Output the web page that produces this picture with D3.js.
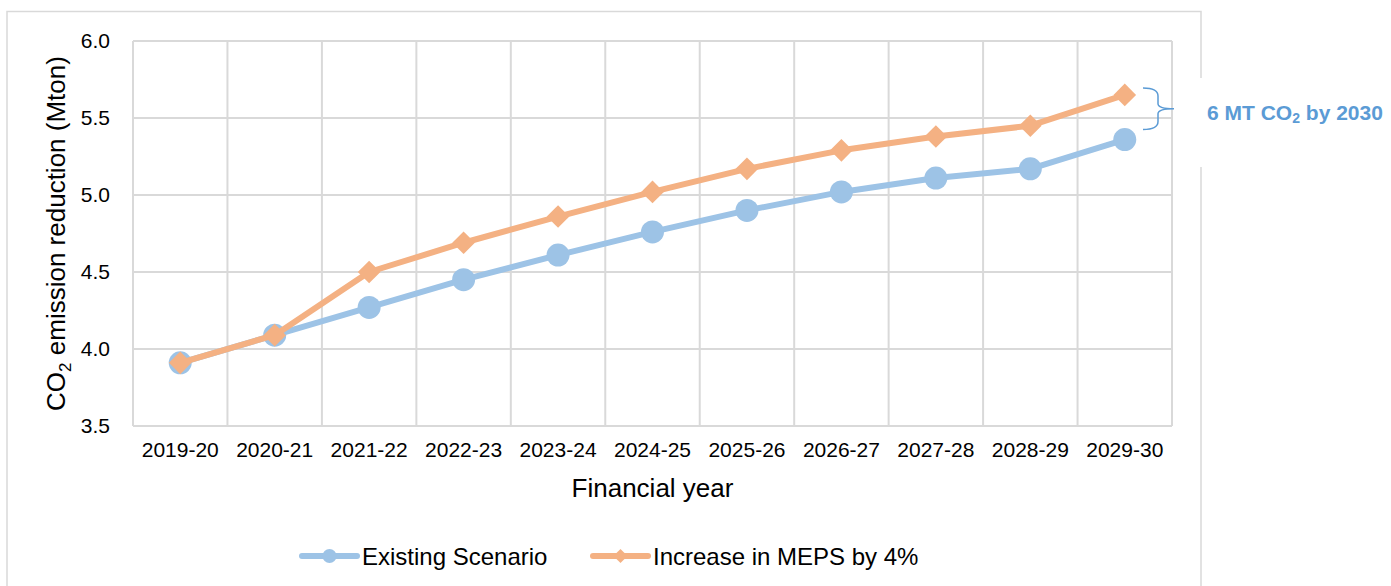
<!DOCTYPE html>
<html>
<head>
<meta charset="utf-8">
<script src="https://cdn.jsdelivr.net/npm/d3@7"></script>
<style>
  html, body { margin: 0; padding: 0; background: #ffffff; }
  svg { display: block; font-family: "Liberation Sans", Arial, sans-serif; }
</style>
</head>
<body>
<svg id="chart" width="1391" height="586"></svg>
<script>
// Financial years on the category axis
const years = ["2019-20", "2020-21", "2021-22", "2022-23", "2023-24", "2024-25",
               "2025-26", "2026-27", "2027-28", "2028-29", "2029-30"];
// CO2 emission reduction (Mton) per scenario
const existingScenario = [3.91, 4.09, 4.27, 4.45, 4.61, 4.76, 4.90, 5.02, 5.11, 5.17, 5.36];
const mepsIncrease4 = [3.91, 4.09, 4.50, 4.69, 4.86, 5.02, 5.17, 5.29, 5.38, 5.45, 5.65];
// Value-axis ticks
const yTicks = [3.5, 4.0, 4.5, 5.0, 5.5, 6.0];

const seriesNames = ["Existing Scenario", "Increase in MEPS by 4%"];
const blue = "#9DC3E6", orange = "#F4B183", grid = "#D9D9D9", accent = "#5B9BD5";
const font = "Liberation Sans, Arial, sans-serif";

const svg = d3.select("#chart");

// Chart frame
svg.append("rect")
  .attr("x", 7).attr("y", 11.5).attr("width", 1194).attr("height", 600)
  .attr("fill", "#fff").attr("stroke", grid).attr("stroke-width", 1.5);

const plot = { left: 133, right: 1172, top: 41, bottom: 426 };

const x = d3.scaleBand().domain(years).range([plot.left, plot.right]).padding(0);
const y = d3.scaleLinear().domain([3.5, 6.0]).range([plot.bottom, plot.top]);
const cx = d => x(d) + x.bandwidth() / 2;

// Horizontal gridlines
svg.append("g").selectAll("line").data(yTicks).join("line")
  .attr("x1", plot.left).attr("x2", plot.right)
  .attr("y1", d => y(d)).attr("y2", d => y(d))
  .attr("stroke", grid).attr("stroke-width", 2);

// Vertical gridlines at category boundaries
const bounds = years.map(d => x(d)).concat([plot.right]);
svg.append("g").selectAll("line").data(bounds).join("line")
  .attr("x1", d => d).attr("x2", d => d)
  .attr("y1", plot.top).attr("y2", plot.bottom)
  .attr("stroke", grid).attr("stroke-width", 2);

// Y axis tick labels
const yAxis = d3.axisLeft(y).tickValues(yTicks).tickFormat(d3.format(".1f")).tickSize(0).tickPadding(23);
svg.append("g").attr("transform", `translate(${plot.left},0)`).call(yAxis)
  .call(g => g.select(".domain").remove())
  .call(g => g.selectAll("text").attr("font-size", 21).attr("fill", "#000").attr("font-family", font));

// X axis tick labels
const xAxis = d3.axisBottom(x).tickSize(0).tickPadding(16);
svg.append("g").attr("transform", `translate(0,${plot.bottom})`).call(xAxis)
  .call(g => g.select(".domain").remove())
  .call(g => g.selectAll("text").attr("font-size", 21).attr("fill", "#000").attr("font-family", font));

// Axis titles
svg.append("text")
  .attr("x", (plot.left + plot.right) / 2).attr("y", 497)
  .attr("text-anchor", "middle").attr("font-size", 26).attr("fill", "#000")
  .text("Financial year");

const yTitle = svg.append("text")
  .attr("transform", `translate(65,${(plot.top + plot.bottom) / 2}) rotate(-90)`)
  .attr("text-anchor", "middle").attr("font-size", 26).attr("fill", "#000");
yTitle.append("tspan").text("CO");
yTitle.append("tspan").attr("font-size", 17).attr("dy", 6).text("2");
yTitle.append("tspan").attr("dy", -6).text(" emission reduction (Mton)");

// Series lines and markers
const line = d3.line().x((d, i) => cx(years[i])).y(d => y(d));

svg.append("path").datum(existingScenario)
  .attr("d", line).attr("fill", "none").attr("stroke", blue)
  .attr("stroke-width", 6).attr("stroke-linejoin", "round").attr("stroke-linecap", "round");
svg.append("g").selectAll("circle").data(existingScenario).join("circle")
  .attr("cx", (d, i) => cx(years[i])).attr("cy", d => y(d)).attr("r", 11.5)
  .attr("fill", blue);

const diamond = d3.symbol().type(d3.symbolSquare).size(256);
svg.append("path").datum(mepsIncrease4)
  .attr("d", line).attr("fill", "none").attr("stroke", orange)
  .attr("stroke-width", 6).attr("stroke-linejoin", "round").attr("stroke-linecap", "round");
svg.append("g").selectAll("path").data(mepsIncrease4).join("path")
  .attr("d", diamond)
  .attr("transform", (d, i) => `translate(${cx(years[i])},${y(d)}) rotate(45)`)
  .attr("fill", orange);

// Annotation: text box covering the frame edge, brace and label
svg.append("rect").attr("x", 1185).attr("y", 78).attr("width", 206).attr("height", 89).attr("fill", "#fff");

const last = years.length - 1;
const bTop = y(mepsIncrease4[last]) - 7, bBot = y(existingScenario[last]) - 10;
const bMid = (bTop + bBot) / 2, bx0 = 1143, bx1 = 1158, bTip = 1174;
const brace = d3.path();
brace.moveTo(bx0, bTop);
brace.quadraticCurveTo(bx1, bTop, bx1, bTop + 8);
brace.lineTo(bx1, bMid - 5);
brace.quadraticCurveTo(bx1, bMid, bTip, bMid);
brace.quadraticCurveTo(bx1, bMid, bx1, bMid + 5);
brace.lineTo(bx1, bBot - 8);
brace.quadraticCurveTo(bx1, bBot, bx0, bBot);
svg.append("path").attr("d", brace.toString())
  .attr("fill", "none").attr("stroke", accent).attr("stroke-width", 1.5);

const note = svg.append("text")
  .attr("x", 1207).attr("y", 120)
  .attr("font-size", 21).attr("font-weight", "bold").attr("fill", accent);
note.append("tspan").text("6 MT CO");
note.append("tspan").attr("font-size", 14).attr("dy", 3).text("2");
note.append("tspan").attr("dy", -3).text(" by 2030");

// Legend
const legend = svg.append("g");
const legendItems = [
  { name: seriesNames[0], color: blue, x0: 302, shape: "circle" },
  { name: seriesNames[1], color: orange, x0: 593, shape: "diamond" }
];
const ly = 556;
legendItems.forEach(it => {
  legend.append("line")
    .attr("x1", it.x0).attr("x2", it.x0 + 55).attr("y1", ly).attr("y2", ly)
    .attr("stroke", it.color).attr("stroke-width", 6).attr("stroke-linecap", "round");
  if (it.shape === "circle") {
    legend.append("circle").attr("cx", it.x0 + 27.5).attr("cy", ly).attr("r", 7).attr("fill", it.color);
  } else {
    legend.append("path").attr("d", d3.symbol().type(d3.symbolSquare).size(100))
      .attr("transform", `translate(${it.x0 + 27.5},${ly}) rotate(45)`).attr("fill", it.color);
  }
  legend.append("text")
    .attr("x", it.x0 + 60).attr("y", ly + 8.5)
    .attr("font-size", 24).attr("fill", "#000").text(it.name);
});
</script>
</body>
</html>
